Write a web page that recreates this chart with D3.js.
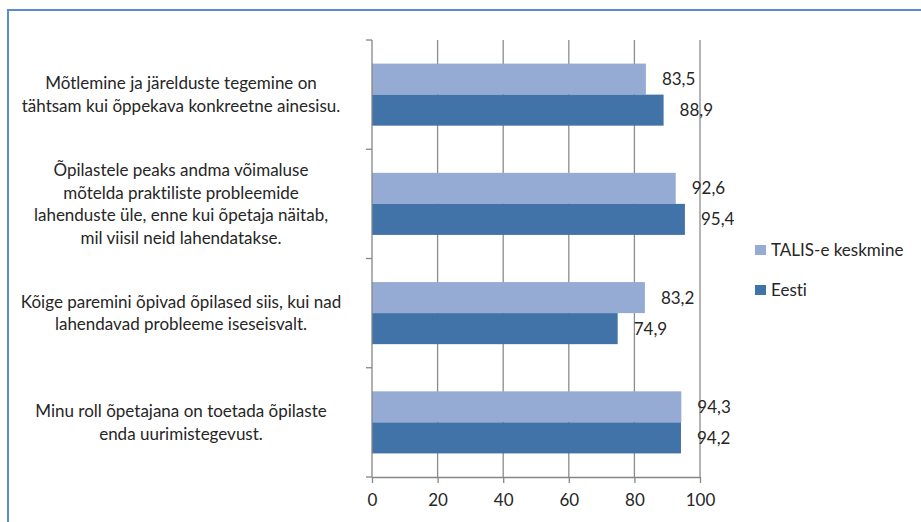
<!DOCTYPE html>
<html>
<head>
<meta charset="utf-8">
<script src="https://cdn.jsdelivr.net/npm/d3@7"></script>
<style>
    html, body { margin: 0; padding: 0; background: #fff; }
    svg { display: block; }
    text { font-family: Lato, "Open Sans", sans-serif; fill: #262626; font-variant-ligatures: none; }
</style>
</head>
<body>
<div id="chart"></div>
<script>
// category labels, already wrapped the way the original shows them
var CATEGORIES = [
    ["Mõtlemine ja järelduste tegemine on", "tähtsam kui õppekava konkreetne ainesisu."],
    ["Õpilastele peaks andma võimaluse", "mõtelda praktiliste probleemide", "lahenduste üle, enne kui õpetaja näitab,", "mil viisil neid lahendatakse."],
    ["Kõige paremini õpivad õpilased siis, kui nad", "lahendavad probleeme iseseisvalt."],
    ["Minu roll õpetajana on toetada õpilaste", "enda uurimistegevust."]
];
var SERIES = ["TALIS-e keskmine", "Eesti"];
var TALIS = [83.5, 92.6, 83.2, 94.3];
var EESTI = [88.9, 95.4, 74.9, 94.2];
var X_TICKS = [0, 20, 40, 60, 80, 100];

var COLORS = {"TALIS-e keskmine": "#95abd3", "Eesti": "#4172a8"};

var W = 921, H = 522;
var plot = {left: 372, right: 700, top: 40, bottom: 477};

var svg = d3.select('#chart').append('svg')
    .attr('width', W).attr('height', H);

// chart frame (only top and left edge show in the crop)
svg.append('path')
    .attr('d', 'M8,522 L8,10 L921,10')
    .attr('fill', 'none')
    .attr('stroke', '#5b8bd0')
    .attr('stroke-width', 2);

var x = d3.scaleLinear().domain([0, 100]).range([plot.left, plot.right]);
var y0 = d3.scaleBand().domain(d3.range(CATEGORIES.length)).range([plot.top, plot.bottom]);
var y1 = d3.scaleBand().domain(SERIES).range([0, y0.bandwidth()]).paddingInner(0).paddingOuter(0.76);

var rows = CATEGORIES.map(function(c, i){
    return {i: i, lines: c, values: [
        {name: SERIES[0], value: TALIS[i]},
        {name: SERIES[1], value: EESTI[i]}
    ]};
});

var locale = d3.formatLocale({decimal: ",", thousands: " ", grouping: [3], currency: ["", "€"]});
var fmt = locale.format(".1f");

// vertical gridlines
svg.append('g').selectAll('line')
    .data(X_TICKS.filter(function(d){ return d > 0; }))
    .enter().append('line')
        .attr('x1', function(d){ return x(d); }).attr('x2', function(d){ return x(d); })
        .attr('y1', plot.top).attr('y2', plot.bottom)
        .attr('stroke', '#8c8c8c').attr('stroke-width', 1.3);

// bars
var groups = svg.append('g').selectAll('g')
    .data(rows)
    .enter().append('g')
        .attr('transform', function(d){ return 'translate(0,' + y0(d.i) + ')'; });

groups.selectAll('rect')
    .data(function(d){ return d.values; })
    .enter().append('rect')
        .attr('x', x(0))
        .attr('y', function(d){ return y1(d.name); })
        .attr('width', function(d){ return x(d.value) - x(0); })
        .attr('height', y1.bandwidth())
        .attr('fill', function(d){ return COLORS[d.name]; });

groups.selectAll('text.val')
    .data(function(d){ return d.values; })
    .enter().append('text')
        .attr('class', 'val')
        .attr('x', function(d){ return x(d.value) + 16; })
        .attr('y', function(d){ return y1(d.name) + y1.bandwidth() / 2; })
        .attr('dy', '0.35em')
        .attr('font-size', 17)
        .text(function(d){ return fmt(d.value); });

// category labels
var lineH = 22.5;
groups.append('text')
    .attr('class', 'cat')
    .attr('text-anchor', 'middle')
    .attr('font-size', 17)
    .each(function(d){
        var t = d3.select(this);
        var n = d.lines.length;
        d.lines.forEach(function(line, k){
            t.append('tspan')
                .attr('x', 181)
                .attr('y', y0.bandwidth() / 2 + (k - (n - 1) / 2) * lineH)
                .attr('dy', '0.35em')
                .text(line);
        });
    });

// category axis: line plus ticks at band edges
var catAxis = svg.append('g').attr('stroke', '#868686').attr('stroke-width', 1.3);
catAxis.append('line')
    .attr('x1', plot.left).attr('x2', plot.left)
    .attr('y1', plot.top).attr('y2', plot.bottom);
catAxis.selectAll('line.tick')
    .data(y0.domain().map(function(d){ return y0(d); }).concat([plot.bottom]))
    .enter().append('line')
        .attr('class', 'tick')
        .attr('x1', plot.left - 6).attr('x2', plot.left)
        .attr('y1', function(d){ return d; }).attr('y2', function(d){ return d; });

// value axis
var xAxis = svg.append('g')
    .attr('transform', 'translate(0,' + plot.bottom + ')')
    .call(d3.axisBottom(x).tickValues(X_TICKS).tickSize(6).tickPadding(11).tickSizeOuter(0));
xAxis.select('.domain').attr('stroke', '#868686').attr('stroke-width', 1.3);
xAxis.selectAll('.tick line').attr('stroke', '#868686').attr('stroke-width', 1.3);
xAxis.selectAll('.tick text')
    .attr('font-size', 17)
    .attr('font-family', 'Lato, "Open Sans", sans-serif')
    .attr('fill', '#262626');

// legend
var legend = svg.append('g').selectAll('g')
    .data(SERIES)
    .enter().append('g')
        .attr('transform', function(d, i){ return 'translate(755,' + (245 + i * 40) + ')'; });
legend.append('rect')
    .attr('width', 11).attr('height', 10)
    .attr('fill', function(d){ return COLORS[d]; });
legend.append('text')
    .attr('x', 16).attr('y', 5)
    .attr('dy', '0.35em')
    .attr('font-size', 17)
    .text(function(d){ return d; });
</script>
</body>
</html>
